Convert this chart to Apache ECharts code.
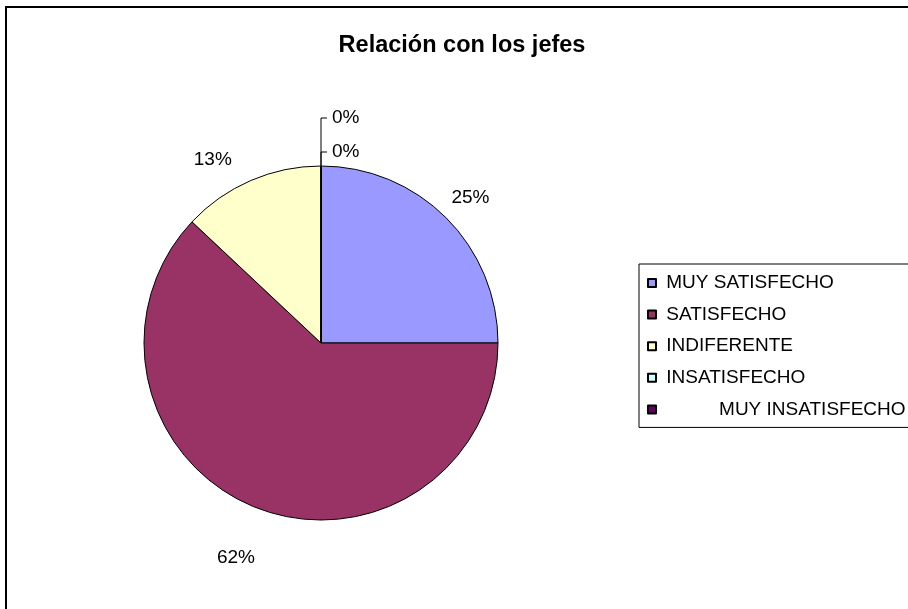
<!DOCTYPE html>
<html>
<head>
<meta charset="utf-8">
<script src="https://cdn.jsdelivr.net/npm/echarts@6/dist/echarts.min.js"></script>
<style>
  html, body { margin: 0; padding: 0; background: #fff; }
  #chart { width: 908px; height: 609px; }
</style>
</head>
<body>
<div id="chart"></div>
<script>
// ---- data ----
const categories = ['MUY SATISFECHO', 'SATISFECHO', 'INDIFERENTE', 'INSATISFECHO', 'MUY INSATISFECHO'];
const values = [25, 62, 13, 0, 0];
const colors = ['#9999FF', '#993366', '#FFFFCC', '#CCFFFF', '#660066'];
const titleText = 'Relación con los jefes';

// ---- label placement config (styles, not data) ----
const labelLineLength = [31.6, 54, 35, 14, 48];
const labelShift = [[2, 2], [0, 0], [-24, 11], [0, 0], [0, 0]];
const legendIndent = { 'MUY INSATISFECHO': '           ' };

const FONT = 'Arial, "Liberation Sans", sans-serif';

const pieData = categories.map((name, i) => {
  const inside = i < 3;
  return {
    name: name,
    value: values[i],
    itemStyle: { color: colors[i] },
    label: { distanceToLabelLine: inside ? 0 : 6 },
    labelLine: {
      show: !inside,
      length: labelLineLength[i],
      length2: inside ? 0 : 6,
      lineStyle: { color: '#000', width: 1 }
    }
  };
});

const chart = echarts.init(document.getElementById('chart'), null, { renderer: 'canvas' });
chart.setOption({
  backgroundColor: '#fff',
  animation: false,
  title: {
    text: titleText,
    left: 457,
    textAlign: 'center',
    top: 29,
    textStyle: { fontFamily: FONT, fontSize: 23.5, fontWeight: 'bold', color: '#000' }
  },
  graphic: [{
    type: 'rect',
    shape: { x: 6, y: 7, width: 1200, height: 1200 },
    style: { fill: 'none', stroke: '#000', lineWidth: 2 },
    silent: true,
    z: 100
  }],
  legend: {
    orient: 'vertical',
    left: 639,
    top: 264,
    padding: [9, 200, 8, 8],
    itemWidth: 8,
    itemHeight: 8,
    itemGap: 11.6,
    backgroundColor: '#fff',
    borderColor: '#000',
    borderWidth: 1,
    icon: 'rect',
    selectedMode: false,
    formatter: function (name) {
      return (legendIndent[name] || ' ') + name;
    },
    textStyle: { fontFamily: FONT, fontSize: 19, color: '#000', lineHeight: 20 },
    data: categories
  },
  series: [{
    type: 'pie',
    center: [321, 343],
    radius: 177,
    startAngle: 90,
    clockwise: true,
    avoidLabelOverlap: false,
    itemStyle: { borderColor: '#000', borderWidth: 1 },
    emphasis: { disabled: true },
    label: {
      show: true,
      position: 'outside',
      formatter: '{d}%',
      fontFamily: FONT,
      fontSize: 19,
      color: '#000'
    },
    labelLine: { smooth: false },
    labelLayout: function (p) {
      const s = labelShift[p.dataIndex];
      if (p.dataIndex < 3) {
        return { align: 'center', verticalAlign: 'middle', dx: s[0], dy: s[1] };
      }
      const pts = p.labelLinePoints;
      if (!pts) return {};
      const p0 = pts[0], p1 = pts[1];
      const p2 = [p1[0] + 6, p1[1]];
      return {
        labelLinePoints: [p0, p1, p2],
        x: p2[0] + 5,
        y: p2[1],
        align: 'left',
        verticalAlign: 'middle'
      };
    },
    data: pieData
  }]
});
</script>
</body>
</html>
